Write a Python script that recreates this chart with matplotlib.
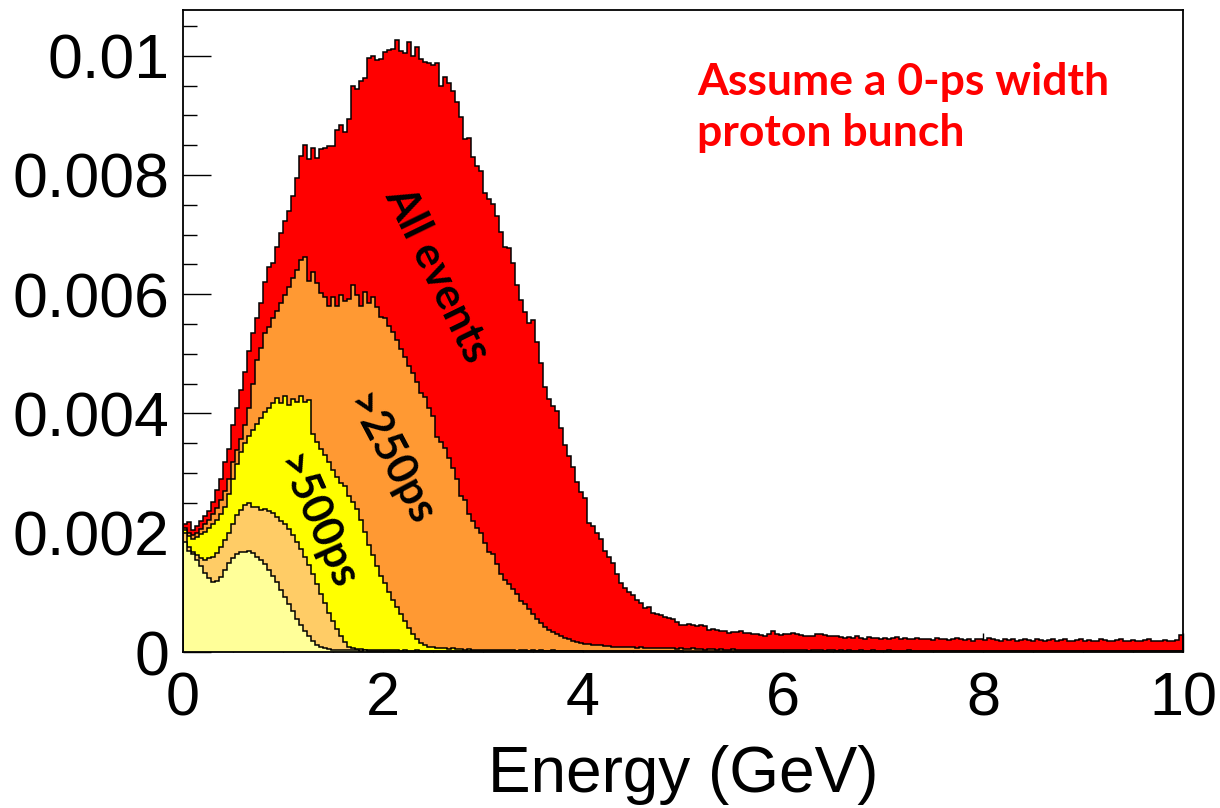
import numpy as np
import matplotlib
matplotlib.use('Agg')
import matplotlib.pyplot as plt
from matplotlib.ticker import FixedLocator, MultipleLocator

BIN_W = 0.04   # GeV per bin
UNIT = 1e-5    # values below are in units of 1e-5

# All events (red)
all_events = [
    215, 218, 205, 212, 220, 228, 236, 252, 272, 290,
    318, 340, 380, 410, 440, 470, 505, 535, 560, 585,
    620, 645, 652, 680, 702, 722, 740, 765, 795, 832,
    850, 826, 846, 828, 844, 846, 848, 848, 876, 884,
    872, 894, 950, 944, 958, 962, 996, 1000, 992, 994,
    1006, 1010, 1012, 1026, 1008, 1005, 1023, 999, 1015, 995,
    990, 987, 985, 987, 950, 964, 955, 940, 922, 898,
    860, 862, 830, 815, 806, 770, 760, 752, 732, 705,
    680, 678, 652, 615, 590, 570, 552, 556, 520, 484,
    445, 425, 413, 405, 376, 347, 328, 310, 285, 268,
    258, 217, 212, 200, 190, 170, 160, 149, 130, 115,
    108, 101, 95, 88, 82, 73, 75, 66, 64, 62,
    59, 57, 55, 50, 46,
    46, 47, 45, 44, 45, 43, 37, 39, 37, 36,
    35, 32, 33, 34, 35, 32, 32, 30, 30, 28,
    27, 30, 35, 30, 29, 31, 31, 32, 30, 28,
    27, 26, 26, 31, 30, 29, 27, 26, 27, 25,
    24, 25, 23, 26, 24, 22, 25, 24, 23, 22, 24, 21, 23, 25, 22, 23, 21, 22, 24, 22, 21,
    22, 20, 23, 21, 22, 20, 21, 24, 22, 20, 21, 19, 22, 21, 20, 23,
    21, 20, 19, 22, 20, 21, 19, 20, 22, 20, 19, 21, 20, 18, 20, 22,
    19, 20, 21, 19, 18, 20, 21, 19, 20, 18, 19, 21, 20, 18, 19, 20,
    22, 19, 18, 20, 19, 18, 20, 21, 19, 18, 19, 20, 18, 19, 20, 28,
]

# >250ps (orange)
gt250 = [
    208, 200, 196, 200, 206, 214, 222, 232, 242, 255,
    270, 290, 318, 338, 358, 380, 410, 450, 490, 510,
    535, 545, 560, 572, 585, 598, 612, 628, 640, 657,
    663, 623, 638, 618, 602, 595, 580, 595, 580, 598,
    588, 592, 615, 598, 580, 604, 585, 595, 578, 562,
    560, 546, 536, 524, 508, 494, 480, 468, 452, 434,
    428, 410, 396, 360, 352, 342, 325, 308, 290, 262,
    255, 232, 220, 208, 200, 183, 168, 164, 148, 130,
    120, 114, 106, 97, 86, 80, 72, 64, 55, 48,
    42, 37, 34, 30, 26, 23, 21, 18, 16, 15,
    14, 13, 12, 12, 11, 10,
    10, 9, 9, 8, 9, 8, 8, 7, 8, 7, 7, 7, 6, 7, 6, 6,
    6, 5, 6, 5, 5, 6, 5, 5, 4, 5, 5, 4, 5, 4, 4, 5,
    4, 4, 4, 3, 4, 4, 3, 4, 3, 4, 3, 3, 4, 3, 3, 3,
    3, 3, 2, 3, 3, 3, 2, 3, 3, 2, 3, 2, 3, 2, 2, 3,
    2, 2, 3, 2, 2, 2, 3, 2, 2, 2, 2, 3, 2, 2, 2, 2,
    2, 2, 2, 2, 1, 2, 2, 2, 2, 1, 2, 2, 2, 1, 2, 2,
    2, 1, 2, 2, 1, 2, 2, 1, 2, 2, 1, 2, 1, 2, 2, 1,
    2, 1, 2, 1, 2, 1, 2, 2, 1, 2, 1, 2, 1, 1, 2, 1,
    2, 1, 1, 2, 1, 2, 1, 1, 2, 1, 1, 2, 1, 2, 1, 1,
]

# >500ps (yellow)
gt500 = [
    205, 195, 190, 193, 198, 202, 208, 215, 222, 232,
    244, 265, 290, 315, 335, 350, 362, 372, 382, 392,
    402, 410, 418, 426, 418, 430, 415, 425, 420, 430,
    420, 422, 365, 352, 340, 330, 318, 305, 294, 284,
    278, 262, 252, 240, 222, 202, 180, 162, 145, 128,
    115, 100, 88, 76, 63, 52, 40, 30, 22, 15,
    11, 9, 8,
    7, 6, 6, 5, 6, 5, 5, 4, 5, 4, 4, 4, 3, 4, 3, 3, 4,
    3, 3, 3, 2, 3, 3, 2, 3, 2, 3, 2, 2, 3, 2, 2, 2, 2,
    2, 2, 2, 1, 2, 2, 2, 1, 2, 2, 1, 2, 2, 1, 2, 1, 2,
    2, 1, 2, 1, 1, 2, 1, 2, 1, 1, 2, 1, 1, 2, 1, 1, 1,
    2, 1, 1, 1, 2, 1, 1, 1, 1, 2, 1, 1, 1, 1, 2, 1, 1,
    1, 1, 2, 1, 1, 1, 1, 1, 2, 1, 1, 1, 1, 1, 1, 2, 1,
    1, 1, 1, 1, 1, 2, 1, 1, 1, 1, 1, 1, 1, 1, 2, 1, 1,
    1, 1, 1, 1, 1, 1, 1, 2, 1, 1, 1, 1, 1, 1, 1, 1, 1,
    1, 2, 1, 1, 1, 1, 1, 1, 1, 1, 1, 1, 2, 1, 1, 1, 1,
    1, 1, 1, 1, 1, 1, 1, 1, 1, 2, 1, 1, 1, 1, 1, 1, 1,
    1, 1, 1, 1, 1, 1, 1, 1, 1, 1, 1, 1, 1, 1, 1, 1, 1,
]

# unlabelled inner layers (light orange, pale yellow)
layer4 = [
    200, 176, 168, 162, 158, 155, 157, 160, 166, 176,
    188, 200, 215, 230, 238, 246, 250, 244, 244, 238,
    240, 236, 233, 227, 220, 214, 206, 196, 184, 172,
    160, 146, 130, 114, 98, 82, 66, 52, 38, 26,
    16, 9, 6,
    5, 5, 4, 4, 4, 3, 4, 3, 3, 3, 3, 2, 3, 2, 2, 3, 2, 2, 2, 2,
    2, 2, 1, 2, 2, 2, 1, 2, 2, 1, 2, 1, 2, 1, 1, 2, 1, 1, 2, 1,
    1, 1, 2, 1, 1, 1, 1, 2, 1, 1, 1, 1, 1, 1, 2, 1, 1, 1, 1, 1,
    1, 1, 1, 2, 1, 1, 1, 1, 1, 1, 1, 1, 1, 1, 1, 1, 1, 1, 1, 1,
    1, 1,
]

layer5 = [
    185, 170, 164, 155, 145, 133, 124, 118, 119, 126,
    138, 150, 158, 164, 167, 168, 169, 166, 160, 155,
    148, 138, 127, 117, 104, 92, 80, 68, 56, 46,
    36, 27, 18, 12, 8, 6,
    5, 4, 4, 4, 3, 3, 3, 3, 2, 3, 2, 2, 2, 2, 2, 2,
    1, 2, 2, 1, 2, 1, 1, 2, 1, 1, 1, 2, 1, 1, 1, 1,
    1, 1, 1, 1, 1, 2, 1, 1, 1, 1, 1, 1, 1, 1, 1, 1,
    1, 1, 1, 1, 1, 1, 1, 1, 1, 1, 1, 1, 1, 1, 1, 1,
]

series = [
    (all_events, '#ff0000'),
    (gt250, '#ff9933'),
    (gt500, '#ffff00'),
    (layer4, '#ffcc66'),
    (layer5, '#ffff99'),
]

y_ticks = [0, 0.002, 0.004, 0.006, 0.008, 0.01]
y_labels = ['0', '0.002', '0.004', '0.006', '0.008', '0.01']
x_ticks = [0, 2, 4, 6, 8, 10]
x_labels = ['0', '2', '4', '6', '8', '10']

plt.rcParams['font.family'] = ['Liberation Sans', 'DejaVu Sans']

fig = plt.figure(figsize=(12.2, 8.08), dpi=100)
ax = fig.add_axes([183 / 1220, 1 - 652 / 808, 1000 / 1220, 642.5 / 808])

for k, (vals, col) in enumerate(series):
    v = np.array(vals, dtype=float) * UNIT
    edges = np.arange(len(v) + 1) * BIN_W
    ax.stairs(v, edges, fill=True, facecolor=col, edgecolor='none', zorder=1 + 2 * k)
    ax.stairs(v, edges, fill=False, color='black', lw=1.1, zorder=2 + 2 * k)

ax.set_xlim(0, 10)
ax.set_ylim(0, 0.010775)
ax.set_axisbelow(True)

ax.yaxis.set_major_locator(FixedLocator(y_ticks))
ax.set_yticklabels(y_labels)
ax.yaxis.set_minor_locator(MultipleLocator(0.0005))
ax.xaxis.set_major_locator(FixedLocator(x_ticks))
ax.set_xticklabels(x_labels)
ax.xaxis.set_minor_locator(MultipleLocator(0.5))

ax.tick_params(axis='y', which='major', direction='in', length=20, width=1.0,
               labelsize=45, pad=10)
ax.tick_params(axis='y', which='minor', direction='in', length=10, width=1.0)
ax.tick_params(axis='x', which='major', direction='in', length=14, width=1.0,
               labelsize=44, pad=14)
ax.tick_params(axis='x', which='minor', direction='in', length=7, width=1.0)

for sp in ax.spines.values():
    sp.set_linewidth(1.3)
    sp.set_zorder(20)

ax.set_xlabel('Energy (GeV)', fontsize=46, labelpad=12)

lbl = dict(family=['Lato', 'DejaVu Sans'], fontweight='bold', fontsize=31,
           color='black', ha='center', va='center', zorder=30)
ax.text(2.54, 0.00633, 'All events', rotation=-64, **lbl)
ax.text(2.07, 0.00322, '>250ps', rotation=-62, **lbl)
ax.text(1.33, 0.00218, '>500ps', rotation=-66, **lbl)

note = dict(family=['Lato', 'DejaVu Sans'], fontweight='bold', fontsize=32,
            color='#ff0000', ha='left', va='baseline')
fig.text(697 / 1220, 1 - 95 / 808, 'Assume a 0-ps width', **note)
fig.text(697 / 1220, 1 - 146 / 808, 'proton bunch', **note)

fig.savefig('out.png', dpi=100)
